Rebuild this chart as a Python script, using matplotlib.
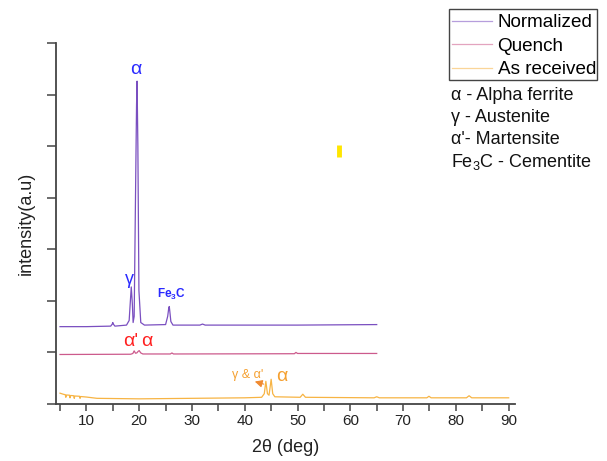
import matplotlib
matplotlib.use("Agg")
import matplotlib.pyplot as plt
from matplotlib.ticker import MultipleLocator
from matplotlib.patches import Rectangle

plt.rcParams['font.family'] = ['Liberation Sans', 'DejaVu Sans']
plt.rcParams['mathtext.fontset'] = 'custom'
plt.rcParams['mathtext.rm'] = 'Liberation Sans'
plt.rcParams['mathtext.it'] = 'Liberation Sans:italic'
plt.rcParams['mathtext.bf'] = 'Liberation Sans:bold'

# ---- data ----
norm_x = [5, 10, 14.6, 14.9, 15.0, 15.1, 15.4, 17.6, 18.1, 18.3, 18.5, 18.7, 18.85,
          19.05, 19.3, 19.5, 19.6, 19.75, 19.95, 20.3, 21, 25.0, 25.4, 25.6, 25.7,
          25.8, 26.0, 26.4, 31.5, 32, 32.5, 50, 65]
norm_y = [1.50, 1.50, 1.51, 1.55, 1.58, 1.55, 1.51, 1.53, 1.62, 1.95, 2.27, 1.95, 1.58,
          1.70, 4.0, 5.8, 6.26, 5.0, 2.2, 1.58, 1.53, 1.54, 1.70, 1.86, 1.89,
          1.80, 1.60, 1.53, 1.53, 1.55, 1.53, 1.53, 1.54]

quench_x = [5, 18.4, 18.8, 19.05, 19.3, 19.55, 19.8, 20.0, 20.3, 20.7, 25.9, 26.2, 26.5,
            49.4, 49.7, 50.0, 65]
quench_y = [0.96, 0.965, 0.98, 1.03, 0.985, 0.99, 1.02, 1.035, 0.99, 0.97, 0.97, 0.99, 0.97,
            0.975, 1.0, 0.98, 0.98]

asrec_x = [5, 5.6, 6.0, 6.1, 6.2, 6.8, 6.9, 7.0, 7.6, 7.7, 7.8, 8.7, 8.8, 8.9, 10, 12, 20,
           30, 40, 43.2, 43.7, 44.0, 44.3, 44.6, 45.0, 45.3, 45.7, 50.5, 51.0, 51.5,
           64.5, 65, 65.5, 74.5, 74.9, 75.3, 82, 82.5, 83, 90]
asrec_y = [0.21, 0.19, 0.18, 0.13, 0.175, 0.17, 0.12, 0.165, 0.16, 0.11, 0.155, 0.15, 0.11,
           0.145, 0.135, 0.11, 0.10, 0.11, 0.12, 0.13, 0.2, 0.44, 0.2, 0.17, 0.48, 0.2,
           0.14, 0.13, 0.19, 0.13, 0.12, 0.14, 0.12, 0.12, 0.15, 0.12, 0.12, 0.16, 0.12, 0.12]

series_labels = ["Normalized", "Quench", "As received"]
series_colors = ["#7a4fc0", "#cc5a8c", "#f7b444"]

phase_notes = [r"α - Alpha ferrite", r"γ - Austenite", r"α'- Martensite", r"Fe$_3$C - Cementite"]

x_ticks = [10, 20, 30, 40, 50, 60, 70, 80, 90]
stray_mark = [57.8, 4.9]

# ---- figure ----
W, H = 607, 461
fig = plt.figure(figsize=(W/100, H/100), dpi=100)
ax = fig.add_axes([56/W, 1-404/H, 459/W, 361/H])

ax.plot(norm_x, norm_y, color=series_colors[0], lw=0.9, label=series_labels[0])
ax.plot(quench_x, quench_y, color=series_colors[1], lw=0.9, label=series_labels[1])
ax.plot(asrec_x, asrec_y, color=series_colors[2], lw=0.9, label=series_labels[2])

ax.set_xlim(4.24, 91.2)
ax.set_ylim(0, 7)
ax.set_xticks(x_ticks)
ax.xaxis.set_minor_locator(MultipleLocator(5))
ax.yaxis.set_major_locator(MultipleLocator(1))
ax.set_yticklabels([])
for s in ['top', 'right']:
    ax.spines[s].set_visible(False)
for s in ['left', 'bottom']:
    ax.spines[s].set_color('#444444')
    ax.spines[s].set_linewidth(1.3)
ax.tick_params(axis='both', which='both', direction='out', length=5, width=1.1,
               color='#444444', labelsize=11, pad=2, labelcolor='#222222')
ax.tick_params(axis='y', which='both', length=6.5)

ax.set_xlabel("2θ (deg)", fontsize=13, color='#222222', labelpad=8)
ax.set_ylabel("intensity(a.u)", fontsize=13, color='#222222', labelpad=7)

# peak labels
ax.text(19.3, 6.49, "α", color="#2a2aff", fontsize=14, ha='center', va='center')
ax.text(18.1, 2.41, "γ", color="#2a2aff", fontsize=13, ha='center', va='center')
ax.text(26.15, 2.12, r"$\mathbf{Fe_3C}$", color="#2a2aff", fontsize=8.5, ha='center', va='center')
ax.text(18.3, 1.21, "α'", color="#ff2020", fontsize=14, ha='center', va='center')
ax.text(21.4, 1.21, "α", color="#ff2020", fontsize=14, ha='center', va='center')
ax.text(40.6, 0.56, "γ & α'", color="#f5a030", fontsize=9, ha='center', va='center')
ax.text(47.0, 0.53, "α", color="#f5a030", fontsize=14, ha='center', va='center')
ax.annotate("", xy=(41.4, 0.45), xytext=(44.1, 0.37),
            arrowprops=dict(arrowstyle="-|>", color="#f08a30", lw=0.8, mutation_scale=11))

ax.plot([stray_mark[0]], [stray_mark[1]], marker='|', markersize=8, markeredgewidth=3.5,
        color='#ffe600', linestyle='none')

leg = ax.legend(loc='upper right', bbox_to_anchor=(596/W, 1-14/H),
                bbox_transform=fig.transFigure, fontsize=13.6, frameon=False,
                borderaxespad=0, handlelength=2.1, handletextpad=0.3,
                borderpad=0.0, labelspacing=0.33)
for line in leg.get_lines():
    line.set_alpha(0.55)

fig.patches.append(Rectangle((449/W, 1-80/H), 148/W, 71/H, transform=fig.transFigure,
                             fill=False, edgecolor='#444444', linewidth=1.0))

for i, note in enumerate(phase_notes):
    fig.text(451/W, 1-(95 + 22.5*i)/H, note, fontsize=13, ha='left', va='center',
             color='#111111')

fig.savefig("out.png", dpi=100)
